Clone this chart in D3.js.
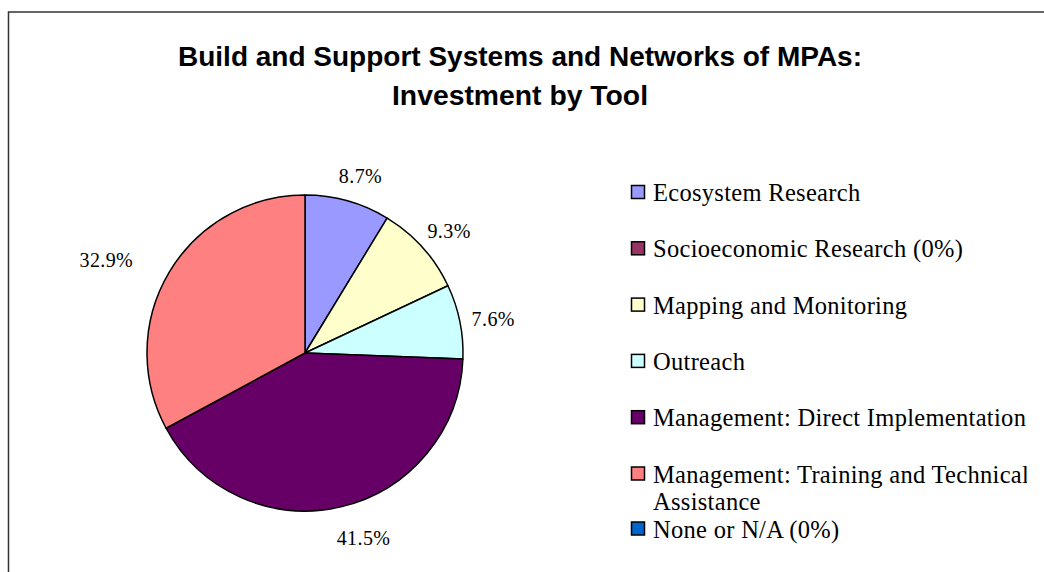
<!DOCTYPE html>
<html>
<head>
<meta charset="utf-8">
<script src="https://cdn.jsdelivr.net/npm/d3@7"></script>
<style>
  html, body { margin: 0; padding: 0; background: #fff; }
  svg { display: block; }
</style>
</head>
<body>
<svg id="chart" width="1044" height="572"></svg>
<script>
// Investment by tool, in the legend's order
const categories = [
  "Ecosystem Research",
  "Socioeconomic Research (0%)",
  "Mapping and Monitoring",
  "Outreach",
  "Management: Direct Implementation",
  "Management: Training and Technical Assistance",
  "None or N/A (0%)"
];
const shares = [8.7, 0, 9.3, 7.6, 41.5, 32.9, 0];
const colors = ["#9999FF", "#993366", "#FFFFCC", "#CCFFFF", "#660066", "#FF8080", "#0066CC"];
const titleLines = ["Build and Support Systems and Networks of MPAs:", "Investment by Tool"];

const svg = d3.select("#chart");
const W = 1044, H = 572;

// chart area frame (runs off the right and bottom edges)
svg.append("rect")
  .attr("x", 8.5).attr("y", 12)
  .attr("width", W + 20).attr("height", H + 20)
  .attr("fill", "#fff")
  .attr("stroke", "#333").attr("stroke-width", 1.5);

// legend text is cut at the right edge of the plot area
svg.append("defs").append("clipPath").attr("id", "plotClip")
  .append("rect").attr("x", 9).attr("y", 13).attr("width", 1018).attr("height", H);

// title
const title = svg.append("g");
const titleWidths = [684, 256];
titleLines.forEach((t, i) => {
  title.append("text")
    .attr("x", 520).attr("y", 66 + i * 39)
    .attr("text-anchor", "middle")
    .attr("font-family", "Liberation Sans, Arial, sans-serif")
    .attr("font-weight", "bold")
    .attr("font-size", 27)
    .attr("textLength", titleWidths[i])
    .attr("lengthAdjust", "spacingAndGlyphs")
    .attr("fill", "#000")
    .text(t);
});

// pie
const cx = 305, cy = 353, r = 158;
const data = categories.map((c, i) => ({ name: c, value: shares[i], color: colors[i] }));
const pie = d3.pie().value(d => d.value).sort(null);
const arcs = pie(data).filter(d => d.data.value > 0);
const arc = d3.arc().innerRadius(0).outerRadius(r);
const labelArc = d3.arc().innerRadius(r + 29).outerRadius(r + 29);

const g = svg.append("g").attr("transform", `translate(${cx},${cy})`);
g.selectAll("path.slice")
  .data(arcs)
  .join("path")
  .attr("class", "slice")
  .attr("d", arc)
  .attr("fill", d => d.data.color)
  .attr("stroke", "#000")
  .attr("stroke-width", 1.5)
  .attr("stroke-linejoin", "round");

// outside labels; wide slices on the left get pushed further out horizontally
g.selectAll("text.pct")
  .data(arcs)
  .join("text")
  .attr("class", "pct")
  .attr("transform", d => {
    const [x, y] = labelArc.centroid(d);
    const a = (d.startAngle + d.endAngle) / 2;
    const shift = Math.sin(a) < -0.5 ? -38 : (Math.cos(a) < -0.9 ? 16 : 5);
    return `translate(${x + shift},${y + 3})`;
  })
  .attr("text-anchor", "middle")
  .attr("dy", "0.35em")
  .attr("font-family", "Liberation Serif, Times New Roman, serif")
  .attr("font-size", 20)
  .attr("letter-spacing", 0.4)
  .attr("fill", "#000")
  .text(d => d.data.value.toFixed(1) + "%");

// legend
const legend = svg.append("g").attr("clip-path", "url(#plotClip)");
const lx = 631, ly0 = 201, rowH = 56.3;
const legendLines = [
  ["Ecosystem Research"],
  ["Socioeconomic Research (0%)"],
  ["Mapping and Monitoring"],
  ["Outreach"],
  ["Management: Direct Implementation"],
  ["Management: Training and Technical", "Assistance"],
  ["None or N/A (0%)"]
];
let y = ly0;
data.forEach((d, i) => {
  const row = legend.append("g");
  row.append("rect")
    .attr("x", lx + 0.5).attr("y", y - 15.5)
    .attr("width", 13).attr("height", 13)
    .attr("fill", d.color)
    .attr("stroke", "#000").attr("stroke-width", 1.5);
  const t = row.append("text")
    .attr("x", lx + 22).attr("y", y)
    .attr("font-family", "Liberation Serif, Times New Roman, serif")
    .attr("font-size", 24.5)
    .attr("letter-spacing", 0.3)
    .attr("fill", "#000");
  legendLines[i].forEach((ln, j) => {
    t.append("tspan").attr("x", lx + 22).attr("dy", j === 0 ? 0 : 27).text(ln);
  });
  y += (i === 5) ? 55 : rowH;
});
</script>
</body>
</html>
